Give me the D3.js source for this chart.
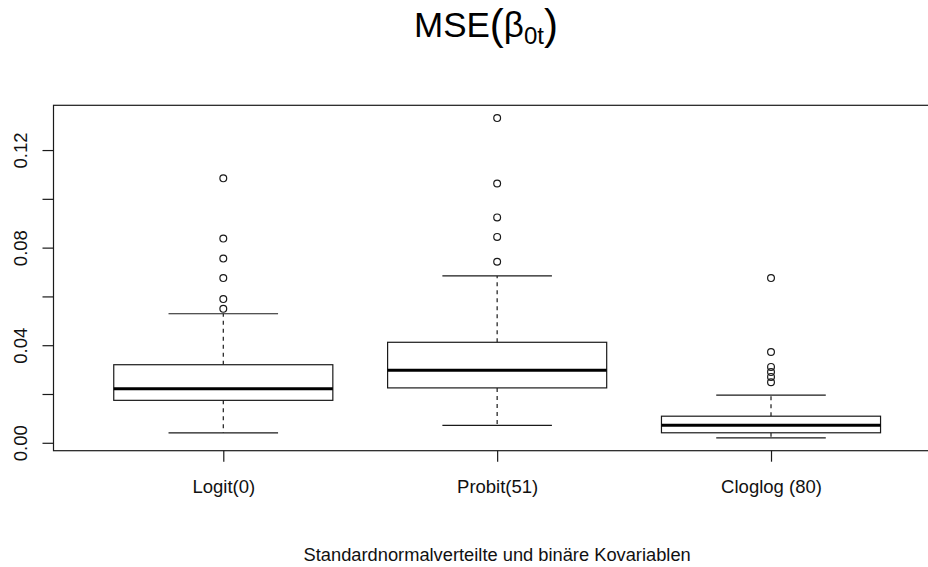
<!DOCTYPE html>
<html>
<head>
<meta charset="utf-8">
<script src="https://cdn.jsdelivr.net/npm/d3@7"></script>
<style>
  body { margin: 0; background: #fff; }
  svg { display: block; font-family: "Liberation Sans", Arial, sans-serif; }
</style>
</head>
<body>
<svg id="chart"></svg>
<script>
// boxplot stats
const categories = ["Logit(0)", "Probit(51)", "Cloglog (80)"];
const whiskerLow = [0.0041, 0.0071, 0.0020];
const q1 = [0.0174, 0.0225, 0.0041];
const median = [0.0221, 0.0297, 0.0072];
const q3 = [0.0320, 0.0412, 0.0109];
const whiskerHigh = [0.0529, 0.0684, 0.0195];
const outliers = [
    [0.1084, 0.0837, 0.0755, 0.0675, 0.0589, 0.0549],
    [0.1331, 0.1063, 0.0924, 0.0844, 0.0742],
    [0.0675, 0.0372, 0.0311, 0.0290, 0.0270, 0.0248]
];
const yTicks = [0, 0.02, 0.04, 0.06, 0.08, 0.10, 0.12];

const width = 928;
const height = 567;
const marginTop = 105.3;
const marginBottom = 116.3; // bottom of plot frame at 450.7
const left = 53.5;
const right = 940.8; // frame runs past the right edge like in the original

const boxes = categories.map((c, i) => ({
    name: c, i: i + 1,
    lo: whiskerLow[i], q1: q1[i], med: median[i], q3: q3[i], hi: whiskerHigh[i],
    out: outliers[i]
}));

const svg = d3.select('#chart')
    .attr('width', width)
    .attr('height', height)
    .attr('viewBox', `0 0 ${width} ${height}`);

// R-style axis range: data range extended by 4%
const allVals = boxes.flatMap(b => [b.lo, b.hi, ...b.out]);
const [vmin, vmax] = d3.extent(allVals);
const pad = (vmax - vmin) * 0.04;

const y = d3.scaleLinear()
    .domain([vmin - pad, vmax + pad])
    .range([height - marginBottom, marginTop]);

const x = d3.scaleLinear()
    .domain([0.5 - 0.12, categories.length + 0.5 + 0.12])
    .range([left, right]);

const halfW = 0.4;
const ink = "#1a1a1a";

// frame
svg.append("rect")
    .attr("x", left)
    .attr("y", marginTop)
    .attr("width", right - left)
    .attr("height", height - marginBottom - marginTop)
    .attr("fill", "none")
    .attr("stroke", ink)
    .attr("stroke-width", 1.2);

// y axis
svg.append("g")
    .attr("transform", `translate(${left},0)`)
    .call(d3.axisLeft(y)
        .tickValues(yTicks)
        .tickSize(11)
        .tickFormat(d => Math.round(d * 100) % 4 === 0 ? d.toFixed(2) : ""))
    .call(g => g.select(".domain").remove())
    .call(g => g.selectAll(".tick line").attr("stroke", ink).attr("stroke-width", 1.2))
    .call(g => g.selectAll(".tick text")
        .attr("transform", "rotate(-90)")
        .attr("x", 0)
        .attr("y", -26.5)
        .attr("dy", 0)
        .attr("text-anchor", "middle")
        .attr("fill", "#111")
        .attr("font-size", 18.5)
        .attr("font-family", null));

// x axis
svg.append("g")
    .attr("transform", `translate(0,${height - marginBottom})`)
    .call(d3.axisBottom(x)
        .tickValues(boxes.map(b => b.i))
        .tickSize(11)
        .tickFormat(d => categories[d - 1]))
    .call(g => g.select(".domain").remove())
    .call(g => g.selectAll(".tick line").attr("stroke", ink).attr("stroke-width", 1.2))
    .call(g => g.selectAll(".tick text")
        .attr("y", 42.5)
        .attr("dy", 0)
        .attr("fill", "#111")
        .attr("font-size", 18.5)
        .attr("font-family", null));

const box = svg.append("g")
    .attr("stroke", ink)
    .attr("stroke-width", 1.2)
    .attr("fill", "none")
    .selectAll("g")
    .data(boxes)
    .join("g");

// dashed whiskers
box.append("line")
    .attr("x1", d => x(d.i)).attr("x2", d => x(d.i))
    .attr("y1", d => y(d.q3)).attr("y2", d => y(d.hi))
    .attr("stroke-dasharray", "4,4");
box.append("line")
    .attr("x1", d => x(d.i)).attr("x2", d => x(d.i))
    .attr("y1", d => y(d.q1)).attr("y2", d => y(d.lo))
    .attr("stroke-dasharray", "4,4");

// whisker caps
box.selectAll(".cap")
    .data(d => [d.lo, d.hi].map(v => ({ i: d.i, v })))
    .join("line")
    .attr("class", "cap")
    .attr("x1", d => x(d.i - halfW / 2))
    .attr("x2", d => x(d.i + halfW / 2))
    .attr("y1", d => y(d.v))
    .attr("y2", d => y(d.v));

// box
box.append("rect")
    .attr("x", d => x(d.i - halfW))
    .attr("width", d => x(d.i + halfW) - x(d.i - halfW))
    .attr("y", d => y(d.q3))
    .attr("height", d => y(d.q1) - y(d.q3))
    .attr("fill", "#fff");

// median
box.append("line")
    .attr("x1", d => x(d.i - halfW))
    .attr("x2", d => x(d.i + halfW))
    .attr("y1", d => y(d.med))
    .attr("y2", d => y(d.med))
    .attr("stroke", "#000")
    .attr("stroke-width", 3);

// outliers
box.selectAll("circle")
    .data(d => d.out.map(v => ({ i: d.i, v })))
    .join("circle")
    .attr("cx", d => x(d.i))
    .attr("cy", d => y(d.v))
    .attr("r", 3.4);

// title MSE(beta_0t)
const title = svg.append("text")
    .attr("x", 486)
    .attr("y", 37)
    .attr("text-anchor", "middle")
    .attr("font-size", 35)
    .attr("fill", "#000");
title.append("tspan").text("MSE");
title.append("tspan").attr("font-size", 42).attr("dy", 2).text("(");
title.append("tspan").attr("dy", -2).text("β");
title.append("tspan").attr("font-size", 24).attr("dy", 7).text("0t");
title.append("tspan").attr("font-size", 42).attr("dy", -5).text(")");

// x title
svg.append("text")
    .attr("x", (left + right) / 2)
    .attr("y", 561)
    .attr("text-anchor", "middle")
    .attr("font-size", 18.3)
    .attr("fill", "#111")
    .text("Standardnormalverteilte und binäre Kovariablen");
</script>
</body>
</html>
